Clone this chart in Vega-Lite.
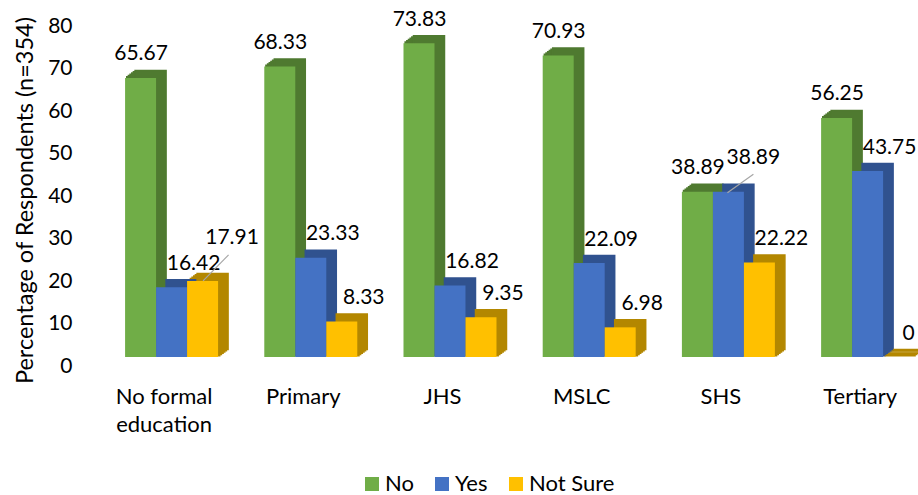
{
  "$schema": "https://vega.github.io/schema/vega-lite/v6.json",
  "width": 828,
  "height": 340,
  "autosize": {"type": "none"},
  "padding": {"left": 90, "top": 17, "right": 0, "bottom": 138},
  "config": {
    "font": "Lato",
    "view": {"stroke": null},
    "axis": {"labelColor": "#000000", "titleColor": "#000000", "labelFont": "Lato", "titleFont": "Lato"},
    "text": {"font": "Lato", "fontSize": 21, "color": "#000000"}
  },
  "data": {
    "values": [
      {"cat": "No formal education", "series": "No", "value": 65.67},
      {"cat": "No formal education", "series": "Yes", "value": 16.42},
      {"cat": "No formal education", "series": "Not Sure", "value": 17.91},
      {"cat": "Primary", "series": "No", "value": 68.33},
      {"cat": "Primary", "series": "Yes", "value": 23.33},
      {"cat": "Primary", "series": "Not Sure", "value": 8.33},
      {"cat": "JHS", "series": "No", "value": 73.83},
      {"cat": "JHS", "series": "Yes", "value": 16.82},
      {"cat": "JHS", "series": "Not Sure", "value": 9.35},
      {"cat": "MSLC", "series": "No", "value": 70.93},
      {"cat": "MSLC", "series": "Yes", "value": 22.09},
      {"cat": "MSLC", "series": "Not Sure", "value": 6.98},
      {"cat": "SHS", "series": "No", "value": 38.89},
      {"cat": "SHS", "series": "Yes", "value": 38.89},
      {"cat": "SHS", "series": "Not Sure", "value": 22.22},
      {"cat": "Tertiary", "series": "No", "value": 56.25},
      {"cat": "Tertiary", "series": "Yes", "value": 43.75},
      {"cat": "Tertiary", "series": "Not Sure", "value": 0}
    ]
  },
  "encoding": {
    "x": {
      "field": "cat", "type": "nominal",
      "sort": ["No formal education", "Primary", "JHS", "MSLC", "SHS", "Tertiary"],
      "scale": {"paddingInner": 0.332, "paddingOuter": 0.14, "align": 0.9},
      "axis": {
        "title": null, "domain": false, "ticks": false, "labelAngle": 0,
        "labelFontSize": 22, "labelPadding": 29, "labelOffset": -7.5,
        "labelBaseline": "top", "labelLineHeight": 28,
        "labelExpr": "datum.label == 'No formal education' ? ['No formal', 'education'] : datum.label"
      }
    },
    "y": {
      "field": "value", "type": "quantitative",
      "scale": {"domain": [0, 80], "nice": false},
      "axis": {
        "values": [0, 10, 20, 30, 40, 50, 60, 70, 80],
        "grid": false, "domain": false, "ticks": false,
        "labelFontSize": 21, "labelPadding": 18, "labelOffset": 9,
        "title": "Percentage of Respondents (n=354)",
        "titleFontSize": 23.5, "titleFontWeight": "normal",
        "titleX": -65, "titleY": 183, "titleAngle": -90,
        "titleAlign": "center", "titleBaseline": "middle"
      }
    }
  },
  "layer": [
    {
      "mark": {"type": "bar", "yOffset": -1.25, "y2Offset": -1.25, "strokeWidth": 1.5},
      "encoding": {
        "xOffset": {"field": "series", "type": "nominal", "sort": ["No", "Yes", "Not Sure"], "scale": {"domain": ["No", "Yes", "Not Sure"], "range": [1.67, 94.67], "paddingInner": 0, "paddingOuter": 0}},
        "fill": {"field": "series", "type": "nominal", "scale": {"domain": ["Not Sure", "Yes", "No"], "range": ["#B38700", "#30528F", "#4F7A30"]}, "legend": null},
        "stroke": {"field": "series", "type": "nominal", "scale": {"domain": ["Not Sure", "Yes", "No"], "range": ["#B38700", "#30528F", "#4F7A30"]}, "legend": null}
      }
    },
    {
      "mark": {"type": "bar", "yOffset": -2.5, "y2Offset": -2.5, "strokeWidth": 1.5},
      "encoding": {
        "xOffset": {"field": "series", "type": "nominal", "sort": ["No", "Yes", "Not Sure"], "scale": {"domain": ["No", "Yes", "Not Sure"], "range": [3.33, 96.33], "paddingInner": 0, "paddingOuter": 0}},
        "fill": {"field": "series", "type": "nominal", "scale": {"domain": ["Not Sure", "Yes", "No"], "range": ["#B38700", "#30528F", "#4F7A30"]}, "legend": null},
        "stroke": {"field": "series", "type": "nominal", "scale": {"domain": ["Not Sure", "Yes", "No"], "range": ["#B38700", "#30528F", "#4F7A30"]}, "legend": null}
      }
    },
    {
      "mark": {"type": "bar", "yOffset": -3.75, "y2Offset": -3.75, "strokeWidth": 1.5},
      "encoding": {
        "xOffset": {"field": "series", "type": "nominal", "sort": ["No", "Yes", "Not Sure"], "scale": {"domain": ["No", "Yes", "Not Sure"], "range": [5, 98], "paddingInner": 0, "paddingOuter": 0}},
        "fill": {"field": "series", "type": "nominal", "scale": {"domain": ["Not Sure", "Yes", "No"], "range": ["#B38700", "#30528F", "#4F7A30"]}, "legend": null},
        "stroke": {"field": "series", "type": "nominal", "scale": {"domain": ["Not Sure", "Yes", "No"], "range": ["#B38700", "#30528F", "#4F7A30"]}, "legend": null}
      }
    },
    {
      "mark": {"type": "bar", "yOffset": -5, "y2Offset": -5, "strokeWidth": 1.5},
      "encoding": {
        "xOffset": {"field": "series", "type": "nominal", "sort": ["No", "Yes", "Not Sure"], "scale": {"domain": ["No", "Yes", "Not Sure"], "range": [6.67, 99.67], "paddingInner": 0, "paddingOuter": 0}},
        "fill": {"field": "series", "type": "nominal", "scale": {"domain": ["Not Sure", "Yes", "No"], "range": ["#B38700", "#30528F", "#4F7A30"]}, "legend": null},
        "stroke": {"field": "series", "type": "nominal", "scale": {"domain": ["Not Sure", "Yes", "No"], "range": ["#B38700", "#30528F", "#4F7A30"]}, "legend": null}
      }
    },
    {
      "mark": {"type": "bar", "yOffset": -6.25, "y2Offset": -6.25, "strokeWidth": 1.5},
      "encoding": {
        "xOffset": {"field": "series", "type": "nominal", "sort": ["No", "Yes", "Not Sure"], "scale": {"domain": ["No", "Yes", "Not Sure"], "range": [8.33, 101.33], "paddingInner": 0, "paddingOuter": 0}},
        "fill": {"field": "series", "type": "nominal", "scale": {"domain": ["Not Sure", "Yes", "No"], "range": ["#B38700", "#30528F", "#4F7A30"]}, "legend": null},
        "stroke": {"field": "series", "type": "nominal", "scale": {"domain": ["Not Sure", "Yes", "No"], "range": ["#B38700", "#30528F", "#4F7A30"]}, "legend": null}
      }
    },
    {
      "mark": {"type": "bar", "yOffset": -7.5, "y2Offset": -7.5, "strokeWidth": 1.5},
      "encoding": {
        "xOffset": {"field": "series", "type": "nominal", "sort": ["No", "Yes", "Not Sure"], "scale": {"domain": ["No", "Yes", "Not Sure"], "range": [10, 103], "paddingInner": 0, "paddingOuter": 0}},
        "fill": {"field": "series", "type": "nominal", "scale": {"domain": ["Not Sure", "Yes", "No"], "range": ["#B38700", "#30528F", "#4F7A30"]}, "legend": null},
        "stroke": {"field": "series", "type": "nominal", "scale": {"domain": ["Not Sure", "Yes", "No"], "range": ["#B38700", "#30528F", "#4F7A30"]}, "legend": null}
      }
    },
    {
      "mark": {"type": "bar"},
      "encoding": {
        "xOffset": {"field": "series", "type": "nominal", "sort": ["No", "Yes", "Not Sure"], "scale": {"domain": ["No", "Yes", "Not Sure"], "paddingInner": 0, "paddingOuter": 0}},
        "color": {
          "field": "series", "type": "nominal",
          "scale": {"domain": ["No", "Yes", "Not Sure"], "range": ["#70AD47", "#4472C4", "#FFC000"]},
          "legend": {
            "title": null, "orient": "none", "legendX": 271, "legendY": 456,
            "direction": "horizontal", "symbolType": "square", "symbolSize": 196,
            "symbolStrokeWidth": 0, "labelFontSize": 22, "labelFont": "Lato", "labelColor": "#000000",
            "labelOffset": 2, "columnPadding": 17
          }
        }
      }
    },
    {
      "transform": [{"filter": "datum.series == 'No'"}],
      "mark": {"type": "text", "dx": 0.5, "dy": -23.5, "baseline": "middle", "align": "center"},
      "encoding": {
        "xOffset": {"field": "series", "type": "nominal", "sort": ["No", "Yes", "Not Sure"], "scale": {"type": "point", "padding": 0.5, "domain": ["No", "Yes", "Not Sure"]}},
        "text": {"field": "value", "type": "quantitative", "format": ".2~f"}
      }
    },
    {
      "transform": [{"filter": "datum.series != 'No' && datum.value > 0 && !(datum.cat == 'No formal education' && datum.series == 'Not Sure') && !(datum.cat == 'SHS' && datum.series == 'Yes')"}],
      "mark": {"type": "text", "dx": 22, "dy": -23.5, "baseline": "middle", "align": "center"},
      "encoding": {
        "xOffset": {"field": "series", "type": "nominal", "sort": ["No", "Yes", "Not Sure"], "scale": {"type": "point", "padding": 0.5, "domain": ["No", "Yes", "Not Sure"]}},
        "text": {"field": "value", "type": "quantitative", "format": ".2~f"}
      }
    },
    {
      "transform": [{"filter": "datum.cat == 'No formal education' && datum.series == 'Not Sure'"}],
      "mark": {"type": "text", "dx": 29.5, "dy": -42.5, "baseline": "middle", "align": "center"},
      "encoding": {
        "xOffset": {"field": "series", "type": "nominal", "sort": ["No", "Yes", "Not Sure"], "scale": {"type": "point", "padding": 0.5, "domain": ["No", "Yes", "Not Sure"]}},
        "text": {"field": "value", "type": "quantitative", "format": ".2~f"}
      }
    },
    {
      "transform": [{"filter": "datum.cat == 'SHS' && datum.series == 'Yes'"}],
      "mark": {"type": "text", "dx": 25, "dy": -33.5, "baseline": "middle", "align": "center"},
      "encoding": {
        "xOffset": {"field": "series", "type": "nominal", "sort": ["No", "Yes", "Not Sure"], "scale": {"type": "point", "padding": 0.5, "domain": ["No", "Yes", "Not Sure"]}},
        "text": {"field": "value", "type": "quantitative", "format": ".2~f"}
      }
    },
    {
      "transform": [{"filter": "datum.value == 0"}],
      "mark": {"type": "text", "dx": 10, "dy": -23.5, "baseline": "middle", "align": "center"},
      "encoding": {
        "xOffset": {"field": "series", "type": "nominal", "sort": ["No", "Yes", "Not Sure"], "scale": {"type": "point", "padding": 0.5, "domain": ["No", "Yes", "Not Sure"]}},
        "text": {"field": "value", "type": "quantitative", "format": ".2~f"}
      }
    },
    {
      "transform": [{"filter": "datum.cat == 'No formal education' && datum.series == 'Not Sure'"}],
      "mark": {"type": "rule", "color": "#A6A6A6", "strokeWidth": 1.2, "xOffset": 31.5, "x2Offset": 57, "yOffset": 0, "y2Offset": -26},
      "encoding": {
        "x2": {"field": "cat"},
        "y2": {"field": "value"}
      }
    },
    {
      "transform": [{"filter": "datum.cat == 'SHS' && datum.series == 'Yes'"}],
      "mark": {"type": "rule", "color": "#A6A6A6", "strokeWidth": 1.2, "xOffset": -1, "x2Offset": 25, "yOffset": 1, "y2Offset": -17.5},
      "encoding": {
        "x2": {"field": "cat"},
        "y2": {"field": "value"}
      }
    }
  ],
  "resolve": {"scale": {"xOffset": "independent"}}
}
